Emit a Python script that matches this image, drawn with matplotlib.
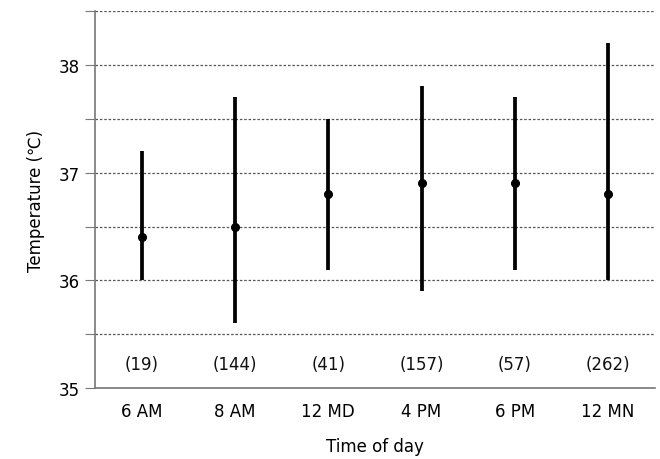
import numpy as np
import matplotlib
matplotlib.use('Agg')
import matplotlib.pyplot as plt

plt.rcParams['font.family'] = ['DejaVu Sans', 'Noto Sans CJK SC']

# Data
times = ['6 AM', '8 AM', '12 MD', '4 PM', '6 PM', '12 MN']
means = [36.4, 36.5, 36.8, 36.9, 36.9, 36.8]
lows = [36.0, 35.6, 36.1, 35.9, 36.1, 36.0]
highs = [37.2, 37.7, 37.5, 37.8, 37.7, 38.2]
counts = [19, 144, 41, 157, 57, 262]

fig = plt.figure(figsize=(6.6, 4.6), dpi=100)
ax = fig.add_axes([0.144, 0.154, 0.848, 0.82])

x = np.arange(len(times))

# Range lines and mean points
ax.vlines(x, lows, highs, color='black', lw=2.7, zorder=3)
ax.plot(x, means, 'o', color='black', ms=5.5, zorder=4)

# Sample sizes
for xi, n in zip(x, counts):
    ax.text(xi, 35.22, f'({n})', ha='center', va='center', fontsize=12, color='#111111')

ax.set_xlim(-0.5, len(times) - 0.5)
ax.set_ylim(35, 38.5)

yt = np.arange(35, 38.51, 0.5)
ax.set_yticks(yt)
ax.set_yticklabels([f'{v:g}' if v == int(v) else '' for v in yt])
ax.set_xticks(x)
ax.set_xticklabels(times)

ax.yaxis.grid(True, linestyle=(0, (2, 1.5)), color='#555555', lw=0.9)
ax.set_axisbelow(True)

for s in ['top', 'right']:
    ax.spines[s].set_visible(False)
for s in ['left', 'bottom']:
    ax.spines[s].set_color('#777777')
    ax.spines[s].set_linewidth(1.2)

ax.tick_params(axis='y', length=7, color='#777777', labelsize=12, pad=4)
ax.tick_params(axis='x', length=0, labelsize=12, pad=10)

ax.set_xlabel('Time of day', fontsize=12, labelpad=12)
ax.set_ylabel('Temperature (\u2103)', fontsize=12, labelpad=10)

fig.savefig('out.png', dpi=100)
